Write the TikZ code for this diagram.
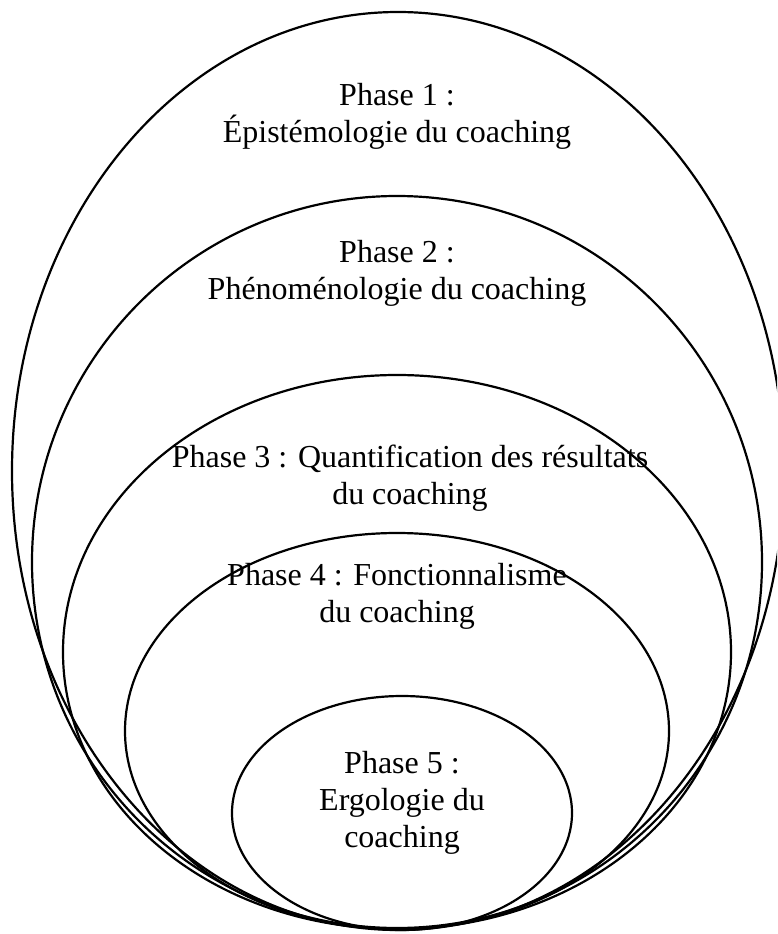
\documentclass[tikz,border=0pt]{standalone}
\usepackage{fontspec}
\setmainfont{Liberation Serif}
\begin{document}
\begin{tikzpicture}[x=1pt,y=-1pt,
  ring/.style={draw=black,line width=2.2pt},
  label/.style={align=center,font=\fontsize{32}{37}\selectfont,inner sep=0pt}]
\useasboundingbox (0,0) rectangle (777,934);
\clip (0,0) rectangle (777,934);
\draw[ring] (398,471) ellipse [x radius=386pt, y radius=459pt];
\draw[ring] (397,562) ellipse [x radius=365pt, y radius=366pt];
\draw[ring] (397,652) ellipse [x radius=334pt, y radius=277pt];
\draw[ring] (397,731) ellipse [x radius=272pt, y radius=198pt];
\draw[ring] (402,813) ellipse [x radius=170pt, y radius=117pt];
\node[label] (p1) at (397,116) {Phase 1 :\\Épistémologie du coaching};
\node[label] (p2) at (397,273) {Phase 2 :\\Phénoménologie du coaching};
\node[label] (p3) at (410,478) {Phase 3 : Quantification des résultats\\du coaching};
\node[label] (p4) at (397,596) {Phase 4 : Fonctionnalisme\\du coaching};
\node[label] (p5) at (402,803) {Phase 5 :\\Ergologie du\\coaching};
\end{tikzpicture}
\end{document}
